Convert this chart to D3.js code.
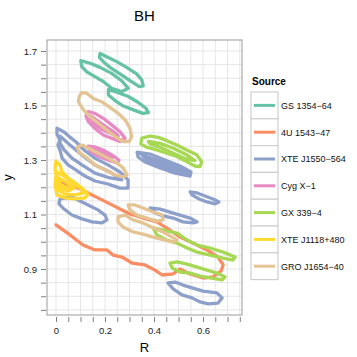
<!DOCTYPE html>
<html>
<head>
<meta charset="utf-8">
<script src="https://cdn.jsdelivr.net/npm/d3@7"></script>
<style>
  body { margin: 0; background: #fff; }
  svg { display: block; font-family: "Liberation Sans", Arial, sans-serif; }
</style>
</head>
<body>
<div class="chart"></div>
<script>
// contour data: [R, y]
var sources = ['GS 1354\u221264', '4U 1543\u221247', 'XTE J1550\u2212564', 'Cyg X\u22121', 'GX 339\u22124', 'XTE J1118+480', 'GRO J1654\u221240']
var colors = ['#66c2a5', '#fc8d62', '#8da0cb', '#e78ac3', '#a6d854', '#ffd92f', '#e5c494']

var gs1354 = [
    [[0.180,1.691],[0.207,1.679],[0.248,1.661],[0.288,1.640],[0.329,1.616],[0.350,1.594],[0.356,1.572],[0.340,1.569],[0.302,1.591],[0.261,1.616],[0.220,1.640],[0.193,1.661],[0.177,1.677]],
    [[0.101,1.665],[0.139,1.655],[0.180,1.640],[0.227,1.618],[0.268,1.591],[0.295,1.563],[0.268,1.551],[0.227,1.563],[0.193,1.588],[0.159,1.606],[0.125,1.624],[0.105,1.643]],
    [[0.214,1.559],[0.254,1.547],[0.295,1.533],[0.336,1.511],[0.367,1.490],[0.377,1.474],[0.354,1.471],[0.316,1.484],[0.275,1.498],[0.241,1.518],[0.214,1.539]]
]
var u4_1543 = [
    [[0.004,1.219],[0.049,1.208],[0.090,1.197],[0.131,1.179],[0.171,1.161],[0.220,1.139],[0.261,1.120],[0.302,1.102],[0.355,1.087],[0.412,1.073],[0.465,1.043],[0.506,1.017],[0.559,0.995],[0.616,0.970],[0.661,0.944],[0.682,0.915],[0.674,0.893],[0.641,0.871],[0.600,0.867],[0.547,0.882],[0.506,0.900],[0.478,0.882],[0.433,0.878],[0.404,0.896],[0.363,0.915],[0.310,0.922],[0.269,0.944],[0.233,0.951],[0.208,0.970],[0.159,0.970],[0.110,0.988],[0.057,1.025],[0.000,1.062]]
]
var xte1550 = [
    [[0.004,1.417],[0.033,1.403],[0.057,1.384],[0.082,1.366],[0.114,1.337],[0.159,1.307],[0.212,1.282],[0.261,1.256],[0.294,1.227],[0.294,1.197],[0.261,1.197],[0.212,1.212],[0.159,1.223],[0.118,1.241],[0.082,1.263],[0.049,1.282],[0.025,1.307],[0.016,1.337],[0.008,1.355],[0.016,1.373],[0.004,1.395]],
    [[0.016,1.388],[0.057,1.355],[0.106,1.318],[0.159,1.282],[0.220,1.256],[0.269,1.227],[0.220,1.234],[0.159,1.252],[0.106,1.282],[0.065,1.307],[0.033,1.337],[0.016,1.362]],
    [[0.331,1.329],[0.384,1.322],[0.445,1.300],[0.506,1.278],[0.551,1.256],[0.547,1.241],[0.486,1.252],[0.425,1.271],[0.363,1.293],[0.335,1.311]],
    [[0.351,1.318],[0.425,1.296],[0.506,1.271],[0.539,1.252],[0.465,1.263],[0.384,1.289]],
    [[0.365,1.310],[0.430,1.288],[0.500,1.265],[0.440,1.276],[0.380,1.296]],
    [[0.016,1.157],[0.065,1.164],[0.090,1.153],[0.131,1.135],[0.171,1.117],[0.200,1.098],[0.208,1.080],[0.188,1.069],[0.147,1.073],[0.106,1.084],[0.065,1.098],[0.033,1.120],[0.012,1.139]],
    [[0.384,1.124],[0.425,1.120],[0.465,1.109],[0.506,1.098],[0.547,1.087],[0.576,1.073],[0.559,1.069],[0.518,1.073],[0.478,1.087],[0.437,1.095],[0.404,1.106]],
    [[0.547,1.183],[0.576,1.179],[0.608,1.168],[0.641,1.157],[0.665,1.146],[0.649,1.139],[0.616,1.146],[0.584,1.157],[0.555,1.172]],
    [[0.457,0.849],[0.486,0.852],[0.518,0.841],[0.559,0.830],[0.600,0.819],[0.657,0.812],[0.678,0.794],[0.661,0.775],[0.620,0.772],[0.588,0.779],[0.555,0.794],[0.514,0.805],[0.478,0.827]]
]
var cygX1 = [
    [[0.132,1.478],[0.159,1.471],[0.193,1.453],[0.227,1.429],[0.261,1.404],[0.282,1.380],[0.261,1.368],[0.227,1.380],[0.193,1.392],[0.159,1.416],[0.132,1.441],[0.122,1.462]],
    [[0.152,1.453],[0.193,1.429],[0.234,1.404],[0.254,1.388],[0.227,1.396],[0.186,1.413],[0.152,1.435]],
    [[0.140,1.462],[0.175,1.440],[0.215,1.412],[0.250,1.392],[0.215,1.402],[0.170,1.425],[0.140,1.450]],
    [[0.131,1.351],[0.159,1.348],[0.192,1.337],[0.229,1.318],[0.257,1.300],[0.249,1.289],[0.212,1.300],[0.171,1.315],[0.139,1.333]],
    [[0.155,1.340],[0.200,1.326],[0.233,1.311],[0.200,1.315],[0.163,1.329]]
]
var gx339 = [
    [[0.350,1.380],[0.384,1.388],[0.418,1.383],[0.452,1.371],[0.493,1.355],[0.533,1.337],[0.574,1.319],[0.595,1.294],[0.588,1.276],[0.567,1.278],[0.533,1.294],[0.493,1.313],[0.452,1.325],[0.411,1.337],[0.370,1.347],[0.346,1.359]],
    [[0.377,1.368],[0.425,1.361],[0.479,1.343],[0.533,1.319],[0.567,1.298],[0.533,1.303],[0.479,1.325],[0.425,1.347],[0.384,1.359]],
    [[0.396,1.051],[0.437,1.043],[0.494,1.032],[0.535,1.006],[0.576,0.988],[0.629,0.977],[0.682,0.962],[0.731,0.944],[0.722,0.933],[0.682,0.940],[0.629,0.951],[0.576,0.962],[0.535,0.977],[0.494,0.995],[0.453,1.006],[0.412,1.025]],
    [[0.465,0.922],[0.494,0.926],[0.535,0.918],[0.576,0.907],[0.616,0.896],[0.657,0.885],[0.690,0.871],[0.678,0.860],[0.629,0.867],[0.588,0.874],[0.547,0.885],[0.506,0.889],[0.474,0.904]]
]
var xte1118 = [
    [[0.000,1.296],[0.016,1.282],[0.025,1.256],[0.049,1.234],[0.078,1.216],[0.106,1.197],[0.131,1.175],[0.118,1.161],[0.078,1.157],[0.037,1.161],[0.004,1.172],[-0.004,1.208],[0.000,1.245],[-0.004,1.271]],
    [[0.004,1.256],[0.033,1.241],[0.065,1.219],[0.098,1.197],[0.114,1.179],[0.078,1.172],[0.037,1.175],[0.008,1.190],[0.004,1.219]],
    [[0.012,1.234],[0.041,1.219],[0.074,1.197],[0.049,1.186],[0.016,1.197]],
    [[0.010,1.215],[0.030,1.205],[0.055,1.195],[0.030,1.190],[0.012,1.200]]
]
var gro1654 = [
    [[0.095,1.533],[0.105,1.547],[0.125,1.545],[0.152,1.526],[0.186,1.514],[0.220,1.493],[0.254,1.471],[0.282,1.447],[0.302,1.416],[0.309,1.386],[0.299,1.368],[0.275,1.368],[0.241,1.386],[0.207,1.410],[0.173,1.435],[0.139,1.459],[0.112,1.484],[0.091,1.514]],
    [[0.086,1.348],[0.106,1.355],[0.131,1.344],[0.171,1.326],[0.212,1.307],[0.249,1.289],[0.274,1.271],[0.290,1.245],[0.274,1.238],[0.241,1.245],[0.200,1.263],[0.159,1.282],[0.127,1.307],[0.094,1.329]],
    [[0.294,1.135],[0.322,1.135],[0.355,1.124],[0.396,1.109],[0.433,1.098],[0.437,1.080],[0.412,1.076],[0.371,1.087],[0.331,1.098],[0.302,1.117]],
    [[0.253,1.091],[0.282,1.098],[0.314,1.080],[0.355,1.069],[0.396,1.051],[0.437,1.036],[0.474,1.017],[0.494,1.006],[0.478,0.999],[0.445,1.006],[0.396,1.017],[0.355,1.028],[0.314,1.036],[0.274,1.054],[0.253,1.073]]
]
var contours = [gs1354, u4_1543, xte1550, cygX1, gx339, xte1118, gro1654]
var closedLoops = [true, false, true, true, true, true, true]

var xTicks = d3.range(0, 0.76, 0.05)
var yTicks = d3.range(0.75, 1.71, 0.05)
var xLabels = ['0', '0.2', '0.4', '0.6']
var yLabels = ['0.9', '1.1', '1.3', '1.5', '1.7']

var svgWidth = 357
var svgHeight = 357
var panel = { left: 47, right: 242, top: 40, bottom: 315 }

var svg = d3.select('.chart').append('svg')
    .attr('width', svgWidth)
    .attr('height', svgHeight)

var x = d3.scaleLinear().domain([-0.0367, 0.759]).range([panel.left, panel.right])
var y = d3.scaleLinear().domain([0.7312, 1.7404]).range([panel.bottom, panel.top])

// grid
var grid = svg.append('g')
grid.selectAll('.vg').data(xTicks).enter().append('line')
    .attr('x1', d => x(d)).attr('x2', d => x(d))
    .attr('y1', panel.top).attr('y2', panel.bottom)
    .attr('stroke', '#e6e6e6').attr('stroke-width', 1)
grid.selectAll('.hg').data(yTicks).enter().append('line')
    .attr('y1', d => y(d)).attr('y2', d => y(d))
    .attr('x1', panel.left).attr('x2', panel.right)
    .attr('stroke', '#e6e6e6').attr('stroke-width', 1)

// contours
var plot = svg.append('g')
contours.forEach((loops, i) => {
    var line = d3.line()
        .x(d => x(d[0]))
        .y(d => y(d[1]))
        .curve(closedLoops[i] ? d3.curveLinearClosed : d3.curveLinear)
    plot.selectAll(null).data(loops).enter().append('path')
        .attr('d', line)
        .attr('fill', 'none')
        .attr('stroke', colors[i])
        .attr('stroke-width', 3.3)
        .attr('stroke-linejoin', 'round')
        .attr('stroke-linecap', 'round')
})

// panel border
svg.append('rect')
    .attr('x', panel.left).attr('y', panel.top)
    .attr('width', panel.right - panel.left).attr('height', panel.bottom - panel.top)
    .attr('fill', 'none').attr('stroke', '#9a9a9a').attr('stroke-width', 1)

// axes
var isLabelTick = d => Math.abs(d * 10 - Math.round(d * 10)) < 1e-6
var fmtX = d => { var k = xLabels.indexOf(d3.format('.1f')(d).replace(/^0\.0$/, '0')); return k >= 0 ? xLabels[k] : '' }
var fmtY = d => { var k = yLabels.indexOf(d3.format('.1f')(d)); return k >= 0 && isLabelTick(d) ? yLabels[k] : '' }

var xAxis = svg.append('g')
    .attr('transform', `translate(0, ${panel.bottom + 2})`)
    .call(d3.axisBottom(x).tickValues(xTicks).tickSize(5).tickPadding(5)
        .tickFormat(d => isLabelTick(d) ? fmtX(d) : ''))
var yAxis = svg.append('g')
    .attr('transform', `translate(${panel.left - 1}, 0)`)
    .call(d3.axisLeft(y).tickValues(yTicks).tickSize(5).tickPadding(4).tickFormat(fmtY))

;[xAxis, yAxis].forEach(a => {
    a.select('.domain').remove()
    a.selectAll('.tick line').attr('stroke', '#7f7f7f')
    a.selectAll('.tick text').attr('fill', '#222').attr('font-size', '9.5px')
        .attr('font-family', '"Liberation Sans", Arial, sans-serif')
})

svg.append('text')
    .attr('x', (panel.left + panel.right) / 2).attr('y', 352)
    .attr('text-anchor', 'middle').attr('font-size', '13px').text('R')
svg.append('text')
    .attr('transform', `translate(12, ${(panel.top + panel.bottom) / 2}) rotate(-90)`)
    .attr('text-anchor', 'middle').attr('font-size', '13px').text('y')
svg.append('text')
    .attr('x', (panel.left + panel.right) / 2).attr('y', 21)
    .attr('text-anchor', 'middle').attr('font-size', '15px').text('BH')

// legend
var legend = svg.append('g').attr('transform', 'translate(251, 0)')
legend.append('text').attr('x', 1).attr('y', 85)
    .attr('font-size', '10px').attr('font-weight', 'bold').text('Source')
var keys = legend.selectAll('.key').data(sources).enter().append('g')
    .attr('transform', (d, i) => `translate(0, ${92 + i * 26.8})`)
keys.append('rect').attr('width', 27).attr('height', 26.8)
    .attr('fill', '#fff').attr('stroke', '#cfcfcf').attr('stroke-width', 1.2)
keys.append('line').attr('x1', 3).attr('x2', 24).attr('y1', 13.4).attr('y2', 13.4)
    .attr('stroke', (d, i) => colors[i]).attr('stroke-width', 3)
keys.append('text').attr('x', 30).attr('y', 16.8)
    .attr('font-size', '9px').attr('fill', '#111').text(d => d)
</script>
</body>
</html>
